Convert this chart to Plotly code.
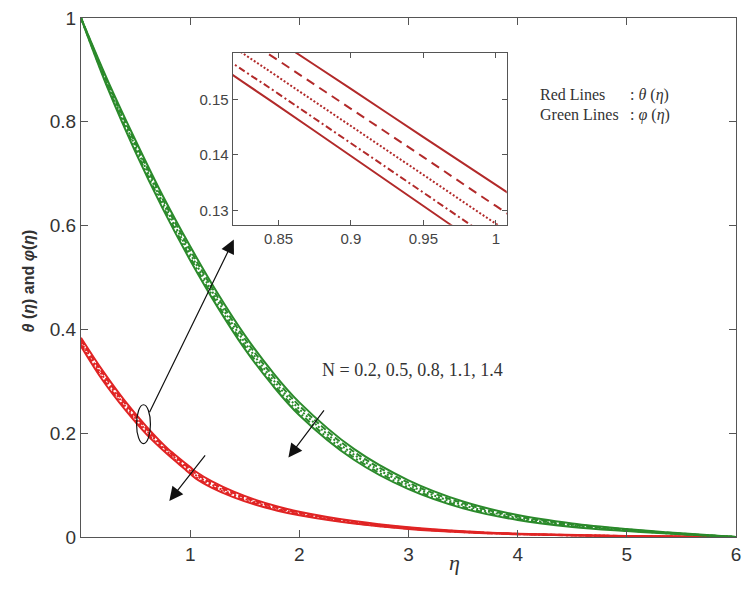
import plotly.graph_objects as go

# similarity variable for the temperature profiles (denser near eta = 0.8 .. 1.05)
ETA_T = [0, 0.2, 0.4, 0.6, 0.8, 0.85, 0.9, 0.95, 1.0, 1.05, 1.2, 1.4, 1.6, 1.8,
         2.0, 2.5, 3.0, 3.5, 4.0, 5.0, 6.0]
# similarity variable for the concentration profiles
ETA_C = [0, 0.25, 0.5, 0.75, 1.0, 1.25, 1.5, 1.75, 2.0, 2.5, 3.0, 3.5, 4.0,
         4.5, 5.0, 5.5, 6.0]

N_VALUES = [0.2, 0.5, 0.8, 1.1, 1.4]

# temperature theta(eta), one list per N
THETA_N02 = [0.384, 0.320, 0.2627, 0.2127, 0.1692, 0.1605, 0.1519, 0.1432, 0.1346,
             0.1262, 0.1072, 0.0874, 0.0716, 0.0589, 0.0488, 0.0307, 0.0187, 0.0111,
             0.0065, 0.0019, 0.0]
THETA_N05 = [0.3795, 0.3150, 0.2583, 0.2086, 0.1658, 0.1570, 0.1483, 0.1396, 0.1308,
             0.1223, 0.1038, 0.0844, 0.0690, 0.0567, 0.0469, 0.0293, 0.0178, 0.0105,
             0.0061, 0.0018, 0.0]
THETA_N08 = [0.375, 0.310, 0.2538, 0.2045, 0.1630, 0.1540, 0.1452, 0.1364, 0.1276,
             0.1192, 0.1005, 0.0815, 0.0665, 0.0545, 0.0450, 0.0280, 0.0170, 0.0100,
             0.0058, 0.0017, 0.0]
THETA_N11 = [0.3710, 0.3052, 0.2494, 0.2006, 0.1599, 0.1510, 0.1421, 0.1332, 0.1243,
             0.1157, 0.0974, 0.0787, 0.0640, 0.0524, 0.0432, 0.0268, 0.0162, 0.0095,
             0.0055, 0.0016, 0.0]
THETA_N14 = [0.3675, 0.3015, 0.2462, 0.1978, 0.1578, 0.1488, 0.1398, 0.1308, 0.1218,
             0.1130, 0.0948, 0.0764, 0.0620, 0.0507, 0.0418, 0.0259, 0.0156, 0.0091,
             0.0053, 0.0015, 0.0]

# concentration phi(eta), one list per N
PHI_N02 = [1.0, 0.877, 0.764, 0.657, 0.560, 0.470, 0.389, 0.319, 0.2594, 0.1697,
           0.1092, 0.0684, 0.0422, 0.0261, 0.0154, 0.0070, 0.0]
PHI_N05 = [1.0, 0.873, 0.758, 0.6505, 0.553, 0.463, 0.382, 0.3123, 0.2529, 0.1642,
           0.1047, 0.0649, 0.0397, 0.0244, 0.0144, 0.0065, 0.0]
PHI_N08 = [1.0, 0.869, 0.752, 0.644, 0.546, 0.456, 0.375, 0.3055, 0.2464, 0.1587,
           0.1002, 0.0614, 0.0372, 0.0226, 0.0134, 0.0060, 0.0]
PHI_N11 = [1.0, 0.865, 0.746, 0.6375, 0.539, 0.449, 0.368, 0.2988, 0.2399, 0.1532,
           0.0957, 0.0579, 0.0347, 0.0209, 0.0124, 0.0055, 0.0]
PHI_N14 = [1.0, 0.8618, 0.7412, 0.6323, 0.5334, 0.4434, 0.3624, 0.2934, 0.2347,
           0.1488, 0.0921, 0.0551, 0.0327, 0.0195, 0.0116, 0.0051, 0.0]

THETA = [THETA_N02, THETA_N05, THETA_N08, THETA_N11, THETA_N14]
PHI = [PHI_N02, PHI_N05, PHI_N08, PHI_N11, PHI_N14]

X_TICKS = [1, 2, 3, 4, 5, 6]
Y_TICKS = [0, 0.2, 0.4, 0.6, 0.8, 1.0]
Y_TICK_TEXT = ["0", "0.2", "0.4", "0.6", "0.8", "1"]
INSET_X_TICKS = [0.85, 0.9, 0.95, 1.0]
INSET_X_TEXT = ["0.85", "0.9", "0.95", "1"]
INSET_Y_TICKS = [0.13, 0.14, 0.15]

# line style per N value (solid, dashed, dotted, dash-dot, solid)
MAIN_DASH = ["solid", "6px,3px", "2px,2px", "6px,3px,2px,3px", "solid"]
INSET_DASH = ["solid", "9px,6px", "2px,2px", "7px,3px,2px,3px", "solid"]

RED = "#e02424"
GREEN = "#2b8a2b"
INSET_RED = "#b22a2a"
AXIS = "#555555"
SANS = "Liberation Sans, Arial, sans-serif"
SERIF = "Liberation Serif, Times New Roman, serif"

fig = go.Figure()

for n, th, dash in zip(N_VALUES, THETA, MAIN_DASH):
    fig.add_trace(go.Scatter(x=ETA_T, y=th, mode="lines", name=f"θ, N={n}",
                             line=dict(color=RED, width=2, dash=dash, shape="spline"),
                             showlegend=False))
for n, ph, dash in zip(N_VALUES, PHI, MAIN_DASH):
    fig.add_trace(go.Scatter(x=ETA_C, y=ph, mode="lines", name=f"φ, N={n}",
                             line=dict(color=GREEN, width=2, dash=dash, shape="spline"),
                             showlegend=False))
# zoomed view of the temperature profiles
for n, th, dash in zip(N_VALUES, THETA, INSET_DASH):
    fig.add_trace(go.Scatter(x=ETA_T, y=th, mode="lines", name=f"θ, N={n}",
                             line=dict(color=INSET_RED, width=2, dash=dash, shape="spline"),
                             xaxis="x2", yaxis="y2", showlegend=False))

axis_common = dict(showline=True, linecolor=AXIS, linewidth=1.3, mirror="ticks",
                   ticks="inside", tickcolor=AXIS, tickwidth=1.2, showgrid=False,
                   zeroline=False)

fig.update_layout(
    width=749, height=589,
    margin=dict(l=81, r=8, t=15, b=52),
    paper_bgcolor="white", plot_bgcolor="white",
    xaxis=dict(range=[0, 6], tickvals=X_TICKS, ticklen=7,
               tickfont=dict(family=SANS, size=19, color="#333333"), **axis_common),
    yaxis=dict(range=[0, 1], tickvals=Y_TICKS, ticktext=Y_TICK_TEXT, ticklen=7,
               tickfont=dict(family=SANS, size=19, color="#333333"), **axis_common),
    xaxis2=dict(domain=[0.2318, 0.65], anchor="y2", range=[0.8185, 1.0075],
                tickvals=INSET_X_TICKS, ticktext=INSET_X_TEXT, ticklen=5,
                tickfont=dict(family=SANS, size=15, color="#444444"), **axis_common),
    yaxis2=dict(domain=[0.6015, 0.933], anchor="x2", range=[0.1274, 0.1584],
                tickvals=INSET_Y_TICKS, ticklen=5,
                tickfont=dict(family=SANS, size=15, color="#444444"), **axis_common),
)


def px_to_paper(px, py):
    """Convert a pixel position on the page to paper coordinates."""
    return (px - 81) / 660, (537 - py) / 522


annotations = []
# axis titles
xp, yp = px_to_paper(18, 279)
annotations.append(dict(x=xp, y=yp, xref="paper", yref="paper", textangle=-90,
                        text="<b><i>θ</i> (<i>η</i>) and <i>φ</i>(<i>η</i>)</b>",
                        showarrow=False, font=dict(family=SANS, size=16, color="#333333")))
xp, yp = px_to_paper(457, 577)
annotations.append(dict(x=xp, y=yp, xref="paper", yref="paper", text="<i>η</i>",
                        showarrow=False, font=dict(family=SERIF, size=22, color="#333333")))

# line colour key
for label, py in [("Red Lines", 81), ("Green Lines", 102)]:
    xp, yp = px_to_paper(541, py)
    annotations.append(dict(x=xp, y=yp, xref="paper", yref="paper", text=label,
                            xanchor="left", showarrow=False,
                            font=dict(family=SERIF, size=16, color="#333333")))
for label, py in [(": <i>θ</i> (<i>η</i>)", 81), (": <i>φ</i> (<i>η</i>)", 102)]:
    xp, yp = px_to_paper(632, py)
    annotations.append(dict(x=xp, y=yp, xref="paper", yref="paper", text=label,
                            xanchor="left", showarrow=False,
                            font=dict(family=SERIF, size=16, color="#333333")))

xp, yp = px_to_paper(415, 381)
annotations.append(dict(x=xp, y=yp, xref="paper", yref="paper",
                        text="N = " + ", ".join(str(n) for n in N_VALUES),
                        showarrow=False, font=dict(family=SERIF, size=18, color="#333333")))

# arrows: (tail eta, tail value) -> (head eta, head value)
for tail, head in [((0.621, 0.2375), (1.40, 0.573)),
                   ((2.236, 0.247), (1.90, 0.153)),
                   ((1.148, 0.160), (0.809, 0.0695))]:
    annotations.append(dict(x=head[0], y=head[1], ax=tail[0], ay=tail[1],
                            xref="x", yref="y", axref="x", ayref="y", text="",
                            showarrow=True, arrowhead=2, arrowsize=2.3,
                            arrowwidth=1.2, arrowcolor="#111111", standoff=0))

fig.update_layout(annotations=annotations)

# ellipse marking the red bundle
fig.add_shape(type="circle", xref="x", yref="y", x0=0.509, x1=0.636, y0=0.180,
              y1=0.2548, line=dict(color="#111111", width=1.2))

fig.write_html("out.html")
